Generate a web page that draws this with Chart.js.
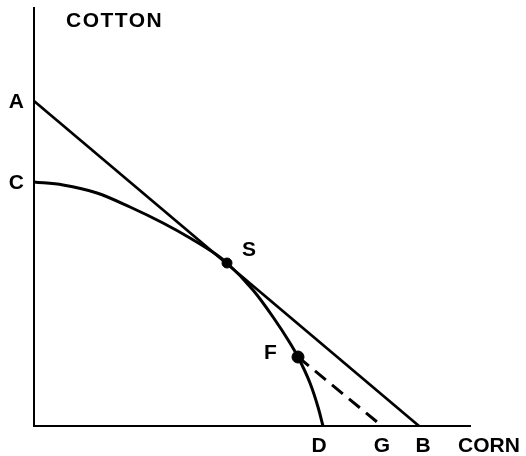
<!DOCTYPE html>
<html>
<head>
<meta charset="utf-8">
<script src="https://cdn.jsdelivr.net/npm/chart.js@4"></script>
<style>
  html, body { margin: 0; padding: 0; background: #fff; }
  #wrap { width: 526px; height: 456px; }
</style>
</head>
<body>
<div id="wrap"><canvas id="ppf"></canvas></div>
<script>
// production possibility curve C..D
const curveX = [0, 29, 63, 96, 129, 156, 183, 193, 219, 239, 256, 264, 276, 284, 289];
const curveY = [244, 241, 233, 219, 203, 188, 171, 163, 136, 109, 83, 69, 43, 19, 0];

// price line A..B and dashed line F..G
const lineABx = [0, 385];
const lineABy = [325, 0];
const lineFGx = [264, 348];
const lineFGy = [69, 0];

// marked points
const pointNames = ['S', 'F'];
const pointX = [193, 264];
const pointY = [163, 69];

// axis letters
const yTickValues = [324, 243];
const yTickLabels = ['A', 'C'];
const xTickValues = [285, 348, 389];
const xTickLabels = ['D', 'G', 'B'];

const xMax = 436;
const yMax = 418;

const FONT = '"Liberation Sans", Arial, sans-serif';

function toXY(xs, ys) {
  return xs.map((x, i) => ({ x: x, y: ys[i] }));
}

// texte COTTON / CORN et lettres des points
const letters = {
  id: 'letters',
  afterDraw(chart) {
    const ctx = chart.ctx;
    const xs = chart.scales.x, ys = chart.scales.y;
    ctx.save();
    ctx.fillStyle = '#000';
    ctx.font = 'bold 21px ' + FONT;
    ctx.textBaseline = 'alphabetic';
    ctx.textAlign = 'left';
    ctx.letterSpacing = '1.5px';
    ctx.fillText('COTTON', 66, 27);
    ctx.letterSpacing = '0px';
    ctx.fillText('CORN', 458, 452);
    // S a direita/acima, F a esquerda
    ctx.fillText(pointNames[0], xs.getPixelForValue(pointX[0]) + 15, ys.getPixelForValue(pointY[0]) - 7);
    ctx.fillText(pointNames[1], xs.getPixelForValue(pointX[1]) - 34, ys.getPixelForValue(pointY[1]) + 2);
    ctx.restore();
  }
};

new Chart(document.getElementById('ppf'), {
  type: 'scatter',
  data: {
    datasets: [
      {
        data: toXY(curveX, curveY),
        showLine: true,
        borderColor: '#000',
        borderWidth: 3,
        pointRadius: 0,
        cubicInterpolationMode: 'monotone'
      },
      {
        data: toXY(lineABx, lineABy),
        showLine: true,
        borderColor: '#000',
        borderWidth: 2.7,
        pointRadius: 0
      },
      {
        data: toXY(lineFGx, lineFGy),
        showLine: true,
        borderColor: '#000',
        borderWidth: 3,
        borderDash: [14, 8],
        pointRadius: 0
      },
      {
        data: toXY(pointX, pointY),
        showLine: false,
        backgroundColor: '#000',
        borderColor: '#000',
        pointRadius: [5, 6]
      }
    ]
  },
  options: {
    responsive: true,
    maintainAspectRatio: false,
    animation: false,
    layout: { padding: { left: 0, right: 56, top: 8, bottom: 0 } },
    plugins: {
      legend: { display: false },
      tooltip: { enabled: false }
    },
    scales: {
      x: {
        type: 'linear',
        min: 0,
        max: xMax,
        grid: { display: false, drawTicks: false },
        border: { display: true, color: '#000', width: 2 },
        afterBuildTicks(scale) {
          scale.ticks = xTickValues.map(v => ({ value: v }));
        },
        afterFit(scale) {
          scale.height = 30;
          scale.paddingLeft = 0;
          scale.paddingRight = 0;
        },
        ticks: {
          color: '#000',
          padding: 8,
          maxRotation: 0,
          autoSkip: false,
          font: { family: FONT, size: 21, weight: 'bold' },
          callback: (v, i) => xTickLabels[i]
        }
      },
      y: {
        type: 'linear',
        min: 0,
        max: yMax,
        grid: { display: false, drawTicks: false },
        border: { display: true, color: '#000', width: 2 },
        afterBuildTicks(scale) {
          scale.ticks = yTickValues.map(v => ({ value: v }));
        },
        afterFit(scale) {
          scale.width = 34;
          scale.paddingTop = 0;
          scale.paddingBottom = 0;
        },
        ticks: {
          color: '#000',
          padding: 10,
          autoSkip: false,
          font: { family: FONT, size: 21, weight: 'bold' },
          callback: (v, i) => yTickLabels[i]
        }
      }
    }
  },
  plugins: [letters]
});
</script>
</body>
</html>
